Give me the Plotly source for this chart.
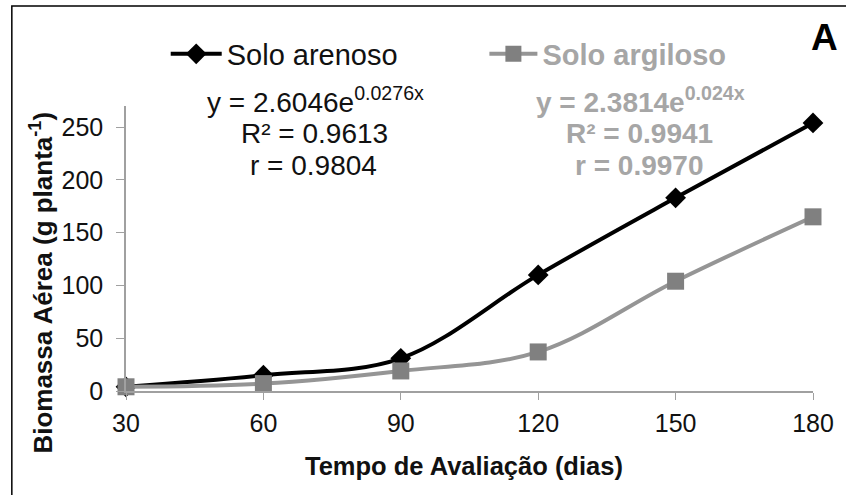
import plotly.graph_objects as go

dias = [30, 60, 90, 120, 150, 180]
solo_arenoso = [4, 15, 31, 110, 183, 254]
solo_argiloso = [4, 7, 19, 37, 104, 165]
x_ticks = [30, 60, 90, 120, 150, 180]
y_ticks = [0, 50, 100, 150, 200, 250]

W, H = 846, 495
L, R, T, B = 126, 28, 106, 104
PW, PH = W - L - R, H - T - B

def px(x):
    return (x - L) / PW

def py(y):
    return (H - B - y) / PH

FONT = "Liberation Sans, Arial, sans-serif"
GRAY_TXT = "#a6a6a6"

fig = go.Figure()
fig.add_trace(go.Scatter(
    x=dias, y=solo_arenoso, name="Solo arenoso", mode="lines+markers",
    line=dict(color="#000000", width=4, shape="spline"),
    marker=dict(symbol="diamond", size=16, color="#000000"),
    cliponaxis=False, legend="legend", showlegend=True))
fig.add_trace(go.Scatter(
    x=dias, y=solo_argiloso, name="<b>Solo argiloso</b>", mode="lines+markers",
    line=dict(color="#959595", width=4, shape="spline"),
    marker=dict(symbol="square", size=17, color="#808080"),
    cliponaxis=False, legend="legend2", showlegend=True))

ann = []
def add(text, x, y, size, color, bold=False):
    t = f"<b>{text}</b>" if bold else text
    ann.append(dict(text=t, x=px(x), y=py(y), xref="paper", yref="paper",
                    showarrow=False, xanchor="center", yanchor="middle",
                    font=dict(family=FONT, size=size, color=color)))

add("y = 2.6046e<sup>0.0276x</sup>", 317, 100, 28, "#111111")
add("R² = 0.9613", 316, 133, 28, "#111111")
add("r = 0.9804", 315, 165, 28, "#111111")
add("y = 2.3814e<sup>0.024x</sup>", 644, 100, 28, GRAY_TXT, True)
add("R² = 0.9941", 643, 133, 28, GRAY_TXT, True)
add("r = 0.9970", 643, 165, 28, GRAY_TXT, True)
add("A", 830, 38, 37, "#000000", True)
add("Tempo de Avaliação (dias)", 466, 466, 25.5, "#111111", True)
ann.append(dict(text="<b>Biomassa Aérea (g planta<sup>-1</sup>)</b>", x=px(40), y=py(283),
                xref="paper", yref="paper", showarrow=False, textangle=-90,
                xanchor="center", yanchor="middle",
                font=dict(family=FONT, size=26, color="#111111")))

fig.update_layout(
    width=W, height=H, margin=dict(l=L, r=R, t=T, b=B),
    paper_bgcolor="white", plot_bgcolor="white",
    font=dict(family=FONT, size=25, color="#111111"),
    showlegend=True,
    annotations=ann,
    legend=dict(x=px(166), y=py(54), xanchor="left", yanchor="middle",
                orientation="h", bgcolor="rgba(0,0,0,0)", itemwidth=51,
                font=dict(family=FONT, size=29, color="#111111")),
    legend2=dict(x=px(487), y=py(54), xanchor="left", yanchor="middle",
                 orientation="h", bgcolor="rgba(0,0,0,0)", itemwidth=48,
                 font=dict(family=FONT, size=29, color=GRAY_TXT)),
    shapes=[dict(type="rect", xref="paper", yref="paper",
                 x0=px(11), x1=px(900), y0=py(540), y1=py(6),
                 line=dict(color="#000000", width=1.5), layer="above")],
    xaxis=dict(range=[30, 180], tickvals=x_ticks, ticks="outside", ticklen=7,
               tickcolor="#a0a0a0", showline=True, linecolor="#a0a0a0", linewidth=1.5,
               showgrid=False, zeroline=False, tickfont=dict(size=25, color="#111111"),
               ticklabelstandoff=2),
    yaxis=dict(range=[0, 270], tickvals=y_ticks, ticks="outside", ticklen=8,
               tickcolor="#a0a0a0", showline=True, linecolor="#a0a0a0", linewidth=1.5,
               showgrid=False, zeroline=False, tickfont=dict(size=25, color="#111111"),
               ticklabelstandoff=8),
)

fig.write_html("out.html", config={"displayModeBar": False},
               post_script="document.body.style.margin='0';document.body.style.overflow='hidden';")
